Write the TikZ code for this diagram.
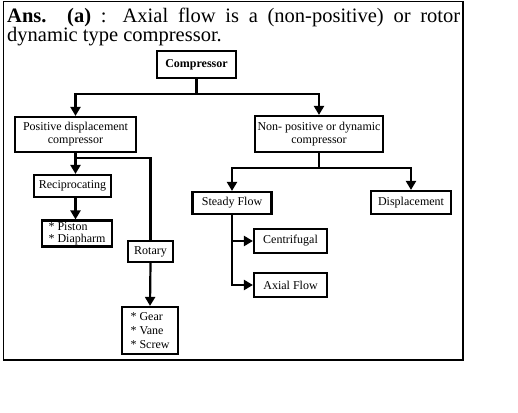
\documentclass[tikz,border=0pt]{standalone}
\usepackage{fontspec}
\setmainfont{Liberation Serif}
\usetikzlibrary{positioning}
\usetikzlibrary{arrows.meta}
\usetikzlibrary{calc}

\begin{document}
\begin{tikzpicture}[
		x=1pt, y=-1pt,
		% Style definitions for the classification tree
		box/.style={draw, line width=2.2pt, inner sep=0pt, font=\fontsize{12}{13}\selectfont, align=center},
		listbox/.style={box, align=left, font=\fontsize{12}{12}\selectfont},
		link/.style={line width=2.2pt},
		arrow/.style={-{Triangle[length=9pt, width=10pt]}, line width=2.2pt},
		]
		\useasboundingbox (0,0) rectangle (518,412);

		% === Frame and answer text ===
		\draw[line width=1.3pt] (3.5,1.5) rectangle (463,360);
		\node[anchor=north west, inner sep=0pt, text width=453pt, align=justify,
			font=\fontsize{20.5}{18}\selectfont] (ans) at (7,7.5)
			{\textbf{Ans. (a)} : Axial flow is a (non-positive) or rotor\linebreak dynamic type compressor.};

		% === Level 1: Compressor ===
		\node[box, minimum width=79pt, minimum height=27pt, font=\bfseries\fontsize{12}{13}\selectfont] (comp) at (196.5,64.5) {Compressor};

		% === Level 2 ===
		\node[box, minimum width=121pt, minimum height=35pt] (posd) at (75.5,134.5) {Positive displacement\\compressor};
		\node[box, minimum width=128pt, minimum height=36pt] (nonp) at (319,134) {Non- positive or dynamic\\compressor};

		% === Left branch ===
		\node[box, minimum width=77pt, minimum height=22pt] (recip) at (72.5,186) {Reciprocating};
		\node[listbox, minimum width=70pt, minimum height=26pt] (piston) at (77,233.5) {* Piston\\* Diapharm};
		\node[box, minimum width=45pt, minimum height=21pt] (rotary) at (150.5,251.5) {Rotary};
		\node[listbox, minimum width=56pt, minimum height=47pt, font=\fontsize{12}{14}\selectfont] (gear) at (150,330.5) {* Gear\\* Vane\\* Screw};

		% === Right branch ===
		\node[box, minimum width=79pt, minimum height=22pt] (steady) at (232,203) {Steady Flow};
		\node[box, minimum width=80pt, minimum height=23pt] (displ) at (411,202.5) {Displacement};
		\node[box, minimum width=73pt, minimum height=24pt] (centri) at (290.5,241) {Centrifugal};
		\node[box, minimum width=73pt, minimum height=24pt] (axial) at (290.5,285) {Axial Flow};

		% === Connectors ===
		\draw[link] (comp.south) -- ++(0,15) coordinate (compsplit);
		\draw[arrow] (compsplit) -| (posd.north);
		\draw[arrow] (compsplit) -| (nonp.north);

		\draw[arrow] (posd.south) -- (posd.south |- recip.north);
		\draw[link] (posd.south) -- ++(0,5) coordinate (posdsplit);
		\draw[link] (posdsplit) -| (rotary.north);
		\draw[arrow] (recip.south -| posd.south) -- (piston.north -| posd.south);
		\draw[arrow] (rotary.south) -- (gear.north);

		\draw[link] (nonp.south) -- ++(0,15) coordinate (nonpsplit);
		\draw[arrow] (nonpsplit) -| (steady.north);
		\draw[arrow] (nonpsplit) -| (displ.north);
		\draw[arrow] (steady.south) |- (centri.west);
		\draw[arrow] (steady.south) |- (axial.west);

	\end{tikzpicture}
\end{document}
